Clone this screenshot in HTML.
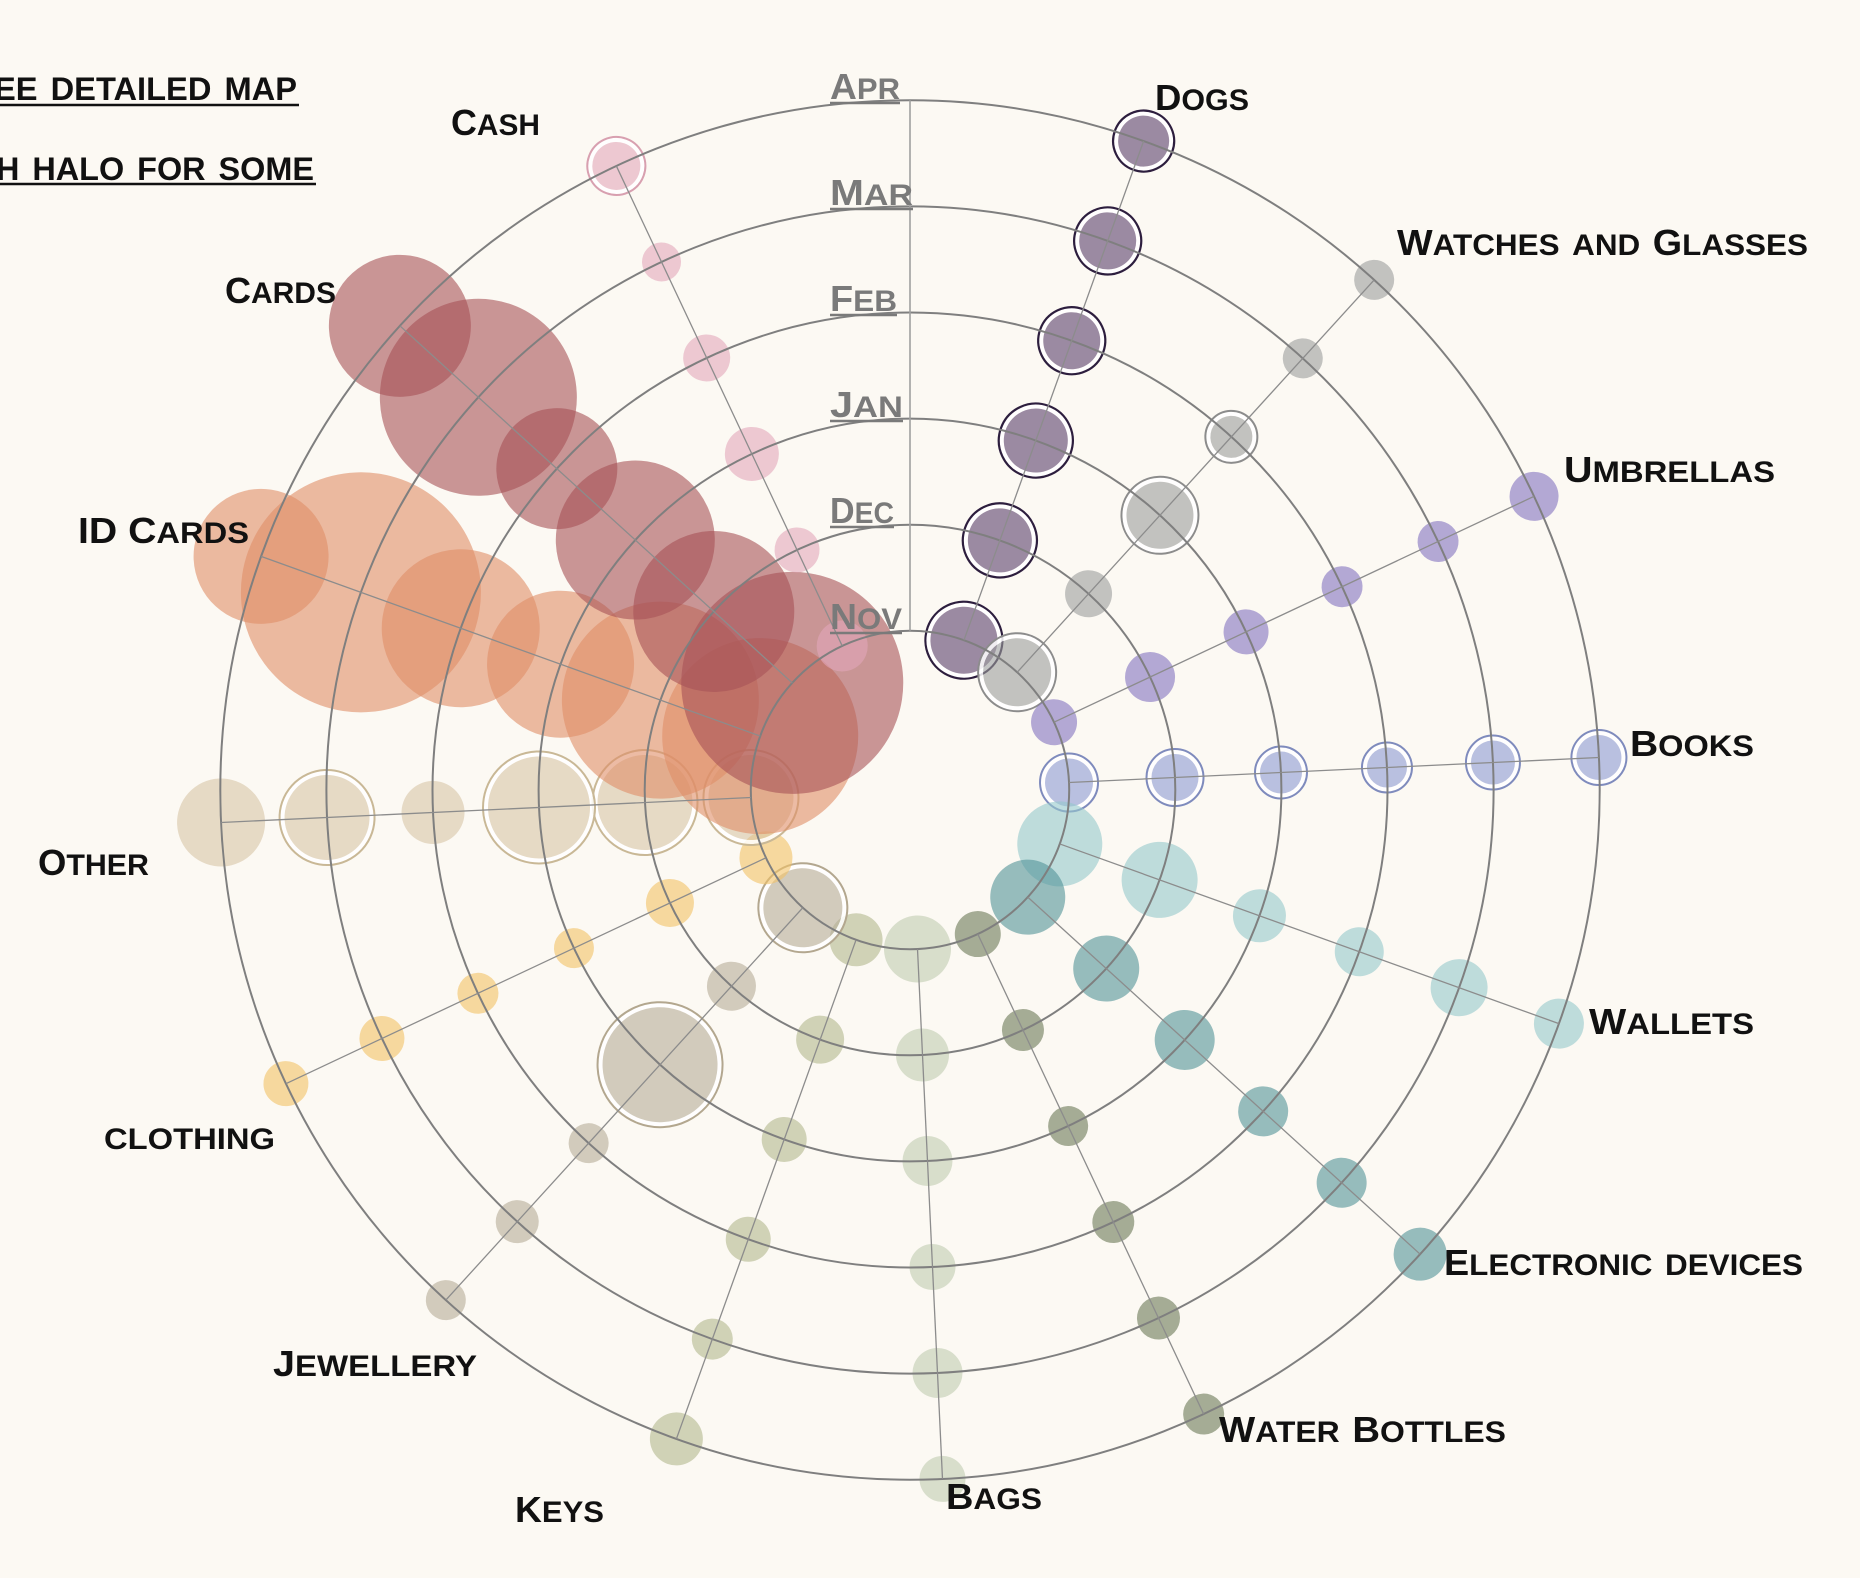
<!DOCTYPE html>
<html><head><meta charset="utf-8"><style>
html,body{margin:0;padding:0;background:#fcf9f3;}
svg{display:block;}
text{font-family:"Liberation Sans",sans-serif;font-weight:bold;font-variant:small-caps;}
.cat{font-size:36px;fill:#111;}
.mon{font-size:36px;fill:#7a7a7a;}
.ttl{font-size:46px;fill:#111;}
.s{font-size:43px;}
.b{opacity:.6;}
.hw{fill:none;stroke:#fff;stroke-width:4;opacity:.85;}
</style></head><body>
<svg width="1860" height="1578" viewBox="0 0 1860 1578" xmlns="http://www.w3.org/2000/svg">
<rect width="1860" height="1578" fill="#fcf9f3"/>

<!-- bubbles -->
<g transform="translate(910,790)">
 <!-- Dogs -->
 <g transform="rotate(19.8)">
  <g fill="rgb(90,63,109)">
   <circle class="hw" cy="-159.2" r="35.5"/><circle cy="-159.2" r="38.5" fill="none" stroke="#2d1e3e" stroke-width="2.2"/><circle class="b" cy="-159.2" r="33.5"/>
   <circle class="hw" cy="-265.3" r="34"/><circle cy="-265.3" r="37" fill="none" stroke="#2d1e3e" stroke-width="2.2"/><circle class="b" cy="-265.3" r="32"/>
   <circle class="hw" cy="-371.4" r="34"/><circle cy="-371.4" r="37" fill="none" stroke="#2d1e3e" stroke-width="2.2"/><circle class="b" cy="-371.4" r="32"/>
   <circle class="hw" cy="-477.5" r="30.5"/><circle cy="-477.5" r="33.5" fill="none" stroke="#2d1e3e" stroke-width="2.2"/><circle class="b" cy="-477.5" r="28.5"/>
   <circle class="hw" cy="-583.6" r="30.5"/><circle cy="-583.6" r="33.5" fill="none" stroke="#2d1e3e" stroke-width="2.2"/><circle class="b" cy="-583.6" r="28.5"/>
   <circle class="hw" cy="-689.7" r="27.5"/><circle cy="-689.7" r="30.5" fill="none" stroke="#2d1e3e" stroke-width="2.2"/><circle class="b" cy="-689.7" r="25.5"/>
  </g>
 </g>
 <!-- Watches and Glasses -->
 <g transform="rotate(42.3)">
  <g fill="rgb(155,157,157)">
   <circle class="hw" cy="-159.2" r="36"/><circle cy="-159.2" r="39" fill="none" stroke="#8c8c8c" stroke-width="2"/><circle class="b" cy="-159.2" r="34"/>
   <circle class="b" cy="-265.3" r="23.5"/>
   <circle class="hw" cy="-371.4" r="35.5"/><circle cy="-371.4" r="38.5" fill="none" stroke="#8c8c8c" stroke-width="2"/><circle class="b" cy="-371.4" r="33.5"/>
   <circle class="hw" cy="-477.5" r="23"/><circle cy="-477.5" r="26" fill="none" stroke="#8c8c8c" stroke-width="2"/><circle class="b" cy="-477.5" r="21"/>
   <circle class="b" cy="-583.6" r="20"/>
   <circle class="b" cy="-689.7" r="20"/>
  </g>
 </g>
 <!-- Umbrellas -->
 <g transform="rotate(64.8)" fill="rgb(130,113,191)">
  <circle class="b" cy="-159.2" r="23"/><circle class="b" cy="-265.3" r="25"/><circle class="b" cy="-371.4" r="22.5"/>
  <circle class="b" cy="-477.5" r="20.5"/><circle class="b" cy="-583.6" r="20.5"/><circle class="b" cy="-689.7" r="24.5"/>
 </g>
 <!-- Books -->
 <g transform="rotate(87.3)" fill="rgb(140,153,211)">
  <circle class="hw" cy="-159.2" r="26"/><circle cy="-159.2" r="29" fill="none" stroke="#7f8bbd" stroke-width="2"/><circle class="b" cy="-159.2" r="24"/>
  <circle class="hw" cy="-265.3" r="25.5"/><circle cy="-265.3" r="28.5" fill="none" stroke="#7f8bbd" stroke-width="2"/><circle class="b" cy="-265.3" r="23.5"/>
  <circle class="hw" cy="-371.4" r="23"/><circle cy="-371.4" r="26" fill="none" stroke="#7f8bbd" stroke-width="2"/><circle class="b" cy="-371.4" r="21"/>
  <circle class="hw" cy="-477.5" r="22"/><circle cy="-477.5" r="25" fill="none" stroke="#7f8bbd" stroke-width="2"/><circle class="b" cy="-477.5" r="20"/>
  <circle class="hw" cy="-583.6" r="24"/><circle cy="-583.6" r="27" fill="none" stroke="#7f8bbd" stroke-width="2"/><circle class="b" cy="-583.6" r="22"/>
  <circle class="hw" cy="-689.7" r="24.5"/><circle cy="-689.7" r="27.5" fill="none" stroke="#7f8bbd" stroke-width="2"/><circle class="b" cy="-689.7" r="22.5"/>
 </g>
 <!-- Wallets -->
 <g transform="rotate(109.8)" fill="rgb(149,200,204)">
  <circle class="b" cy="-159.2" r="42.5"/><circle class="b" cy="-265.3" r="38"/><circle class="b" cy="-371.4" r="26.5"/>
  <circle class="b" cy="-477.5" r="24.5"/><circle class="b" cy="-583.6" r="28.5"/><circle class="b" cy="-689.7" r="25"/>
 </g>
 <!-- Electronic devices -->
 <g transform="rotate(132.3)" fill="rgb(82,147,151)">
  <circle class="b" cy="-159.2" r="37.5"/><circle class="b" cy="-265.3" r="33"/><circle class="b" cy="-371.4" r="30"/>
  <circle class="b" cy="-477.5" r="25"/><circle class="b" cy="-583.6" r="25"/><circle class="b" cy="-689.7" r="26.5"/>
 </g>
 <!-- Water Bottles -->
 <g transform="rotate(154.8)" fill="rgb(107,120,87)">
  <circle class="b" cy="-159.2" r="23"/><circle class="b" cy="-265.3" r="21"/><circle class="b" cy="-371.4" r="20"/>
  <circle class="b" cy="-477.5" r="21"/><circle class="b" cy="-583.6" r="21.5"/><circle class="b" cy="-689.7" r="20.5"/>
 </g>
 <!-- Bags -->
 <g transform="rotate(177.3)" fill="rgb(192,203,177)">
  <circle class="b" cy="-159.2" r="33.5"/><circle class="b" cy="-265.3" r="26.5"/><circle class="b" cy="-371.4" r="25"/>
  <circle class="b" cy="-477.5" r="23"/><circle class="b" cy="-583.6" r="25"/><circle class="b" cy="-689.7" r="23"/>
 </g>
 <!-- Keys -->
 <g transform="rotate(199.8)" fill="rgb(179,183,141)">
  <circle class="b" cy="-159.2" r="26.5"/><circle class="b" cy="-265.3" r="24"/><circle class="b" cy="-371.4" r="22.5"/>
  <circle class="b" cy="-477.5" r="22.5"/><circle class="b" cy="-583.6" r="20.5"/><circle class="b" cy="-689.7" r="26.5"/>
 </g>
 <!-- Jewellery -->
 <g transform="rotate(222.3)" fill="rgb(182,172,151)">
  <circle class="hw" cy="-159.2" r="41.5"/><circle cy="-159.2" r="44.5" fill="none" stroke="#b3a78f" stroke-width="2"/><circle class="b" cy="-159.2" r="39.5"/>
  <circle class="b" cy="-265.3" r="24.5"/>
  <circle class="hw" cy="-371.4" r="59.5"/><circle cy="-371.4" r="62.5" fill="none" stroke="#b3a78f" stroke-width="2"/><circle class="b" cy="-371.4" r="57.5"/>
  <circle class="b" cy="-477.5" r="20"/><circle class="b" cy="-583.6" r="21.5"/><circle class="b" cy="-689.7" r="20"/>
 </g>
 <!-- clothing -->
 <g transform="rotate(244.8)" fill="rgb(242,193,101)">
  <circle class="b" cy="-159.2" r="26.5"/><circle class="b" cy="-265.3" r="24"/><circle class="b" cy="-371.4" r="20"/>
  <circle class="b" cy="-477.5" r="20.5"/><circle class="b" cy="-583.6" r="22.5"/><circle class="b" cy="-689.7" r="22.5"/>
 </g>
 <!-- Other -->
 <g transform="rotate(267.3)" fill="rgb(215,197,167)">
  <circle class="hw" cy="-159.2" r="44.5"/><circle cy="-159.2" r="47.5" fill="none" stroke="#c9b896" stroke-width="2"/><circle class="b" cy="-159.2" r="42.5"/>
  <circle class="hw" cy="-265.3" r="49.5"/><circle cy="-265.3" r="52.5" fill="none" stroke="#c9b896" stroke-width="2"/><circle class="b" cy="-265.3" r="47.5"/>
  <circle class="hw" cy="-371.4" r="53"/><circle cy="-371.4" r="56" fill="none" stroke="#c9b896" stroke-width="2"/><circle class="b" cy="-371.4" r="51"/>
  <circle class="b" cy="-477.5" r="31.5"/>
  <circle class="hw" cy="-583.6" r="44.5"/><circle cy="-583.6" r="47.5" fill="none" stroke="#c9b896" stroke-width="2"/><circle class="b" cy="-583.6" r="42.5"/>
  <circle class="b" cy="-689.7" r="44"/>
 </g>
 <!-- ID Cards -->
 <g transform="rotate(289.8)" fill="rgb(224,142,104)">
  <circle class="b" cy="-159.2" r="98"/><circle class="b" cy="-265.3" r="98.5"/><circle class="b" cy="-371.4" r="73.5"/>
  <circle class="b" cy="-477.5" r="79"/><circle class="b" cy="-583.6" r="120"/><circle class="b" cy="-689.7" r="67.5"/>
 </g>
 <!-- Cards -->
 <g transform="rotate(312.3)" fill="rgb(167,82,86)">
  <circle class="b" cy="-159.2" r="111"/><circle class="b" cy="-265.3" r="80.5"/><circle class="b" cy="-371.4" r="79.5"/>
  <circle class="b" cy="-477.5" r="60.5"/><circle class="b" cy="-583.6" r="98.5"/><circle class="b" cy="-689.7" r="71"/>
 </g>
 <!-- Cash -->
 <g transform="rotate(334.8)" fill="rgb(227,167,187)">
  <circle class="b" cy="-159.2" r="25.5"/><circle class="b" cy="-265.3" r="22.5"/><circle class="b" cy="-371.4" r="27"/>
  <circle class="b" cy="-477.5" r="23.5"/><circle class="b" cy="-583.6" r="19.5"/>
  <circle class="hw" cy="-689.7" r="26"/><circle cy="-689.7" r="29" fill="none" stroke="#d8a0b0" stroke-width="2"/><circle class="b" cy="-689.7" r="24"/>
 </g>
</g>

<!-- grid -->
<g transform="translate(910,790)" fill="none">
 <g stroke="#7f7f7f" stroke-width="2">
  <circle r="159.2"/><circle r="265.3"/><circle r="371.4"/><circle r="477.5"/><circle r="583.6"/><circle r="689.7"/>
 </g>
 <g stroke="#8c8c8c" stroke-width="1.3">
  <line x1="0" y1="-159.2" x2="0" y2="-689.7" stroke="#a0a0a0" stroke-width="1.6"/>
  <line transform="rotate(19.8)" x1="0" y1="-159.2" x2="0" y2="-689.7"/>
  <line transform="rotate(42.3)" x1="0" y1="-159.2" x2="0" y2="-689.7"/>
  <line transform="rotate(64.8)" x1="0" y1="-159.2" x2="0" y2="-689.7"/>
  <line transform="rotate(87.3)" x1="0" y1="-159.2" x2="0" y2="-689.7"/>
  <line transform="rotate(109.8)" x1="0" y1="-159.2" x2="0" y2="-689.7"/>
  <line transform="rotate(132.3)" x1="0" y1="-159.2" x2="0" y2="-689.7"/>
  <line transform="rotate(154.8)" x1="0" y1="-159.2" x2="0" y2="-689.7"/>
  <line transform="rotate(177.3)" x1="0" y1="-159.2" x2="0" y2="-689.7"/>
  <line transform="rotate(199.8)" x1="0" y1="-159.2" x2="0" y2="-689.7"/>
  <line transform="rotate(222.3)" x1="0" y1="-159.2" x2="0" y2="-689.7"/>
  <line transform="rotate(244.8)" x1="0" y1="-159.2" x2="0" y2="-689.7"/>
  <line transform="rotate(267.3)" x1="0" y1="-159.2" x2="0" y2="-689.7"/>
  <line transform="rotate(289.8)" x1="0" y1="-159.2" x2="0" y2="-689.7"/>
  <line transform="rotate(312.3)" x1="0" y1="-159.2" x2="0" y2="-689.7"/>
  <line transform="rotate(334.8)" x1="0" y1="-159.2" x2="0" y2="-689.7"/>
 </g>
</g>

<!-- month labels -->
<g>
 <text class="mon" x="830" y="99" textLength="70" lengthAdjust="spacingAndGlyphs">A<tspan class="s">pr</tspan></text>
 <line x1="830" y1="103" x2="900" y2="103" stroke="#7a7a7a" stroke-width="2.5"/>
 <text class="mon" x="830" y="205" textLength="83" lengthAdjust="spacingAndGlyphs">M<tspan class="s">ar</tspan></text>
 <line x1="830" y1="209" x2="913" y2="209" stroke="#7a7a7a" stroke-width="2.5"/>
 <text class="mon" x="830" y="311" textLength="67" lengthAdjust="spacingAndGlyphs">F<tspan class="s">eb</tspan></text>
 <line x1="830" y1="315" x2="897" y2="315" stroke="#7a7a7a" stroke-width="2.5"/>
 <text class="mon" x="830" y="417" textLength="73" lengthAdjust="spacingAndGlyphs">J<tspan class="s">an</tspan></text>
 <line x1="830" y1="421" x2="903" y2="421" stroke="#7a7a7a" stroke-width="2.5"/>
 <text class="mon" x="830" y="523" textLength="64" lengthAdjust="spacingAndGlyphs">D<tspan class="s">ec</tspan></text>
 <line x1="830" y1="527" x2="894" y2="527" stroke="#7a7a7a" stroke-width="2.5"/>
 <text class="mon" x="830" y="629" textLength="72" lengthAdjust="spacingAndGlyphs">N<tspan class="s">ov</tspan></text>
 <line x1="830" y1="633" x2="902" y2="633" stroke="#7a7a7a" stroke-width="2.5"/>
</g>

<!-- category labels -->
<g>
 <text class="cat" x="1155" y="110" textLength="94" lengthAdjust="spacingAndGlyphs">D<tspan class="s">ogs</tspan></text>
 <text class="cat" x="1397" y="255" textLength="411" lengthAdjust="spacingAndGlyphs">W<tspan class="s">atches and </tspan>G<tspan class="s">lasses</tspan></text>
 <text class="cat" x="1564" y="482" textLength="211" lengthAdjust="spacingAndGlyphs">U<tspan class="s">mbrellas</tspan></text>
 <text class="cat" x="1630" y="756" textLength="124" lengthAdjust="spacingAndGlyphs">B<tspan class="s">ooks</tspan></text>
 <text class="cat" x="1589" y="1034" textLength="165" lengthAdjust="spacingAndGlyphs">W<tspan class="s">allets</tspan></text>
 <text class="cat" x="1444" y="1275" textLength="359" lengthAdjust="spacingAndGlyphs">E<tspan class="s">lectronic devices</tspan></text>
 <text class="cat" x="1219" y="1442" textLength="287" lengthAdjust="spacingAndGlyphs">W<tspan class="s">ater </tspan>B<tspan class="s">ottles</tspan></text>
 <text class="cat" x="946" y="1509" textLength="96" lengthAdjust="spacingAndGlyphs">B<tspan class="s">ags</tspan></text>
 <text class="cat" x="515" y="1522" textLength="89" lengthAdjust="spacingAndGlyphs">K<tspan class="s">eys</tspan></text>
 <text class="cat" x="273" y="1376" textLength="204" lengthAdjust="spacingAndGlyphs">J<tspan class="s">ewellery</tspan></text>
 <text class="cat s" x="104" y="1149" textLength="171" lengthAdjust="spacingAndGlyphs">clothing</text>
 <text class="cat" x="38" y="875" textLength="111" lengthAdjust="spacingAndGlyphs">O<tspan class="s">ther</tspan></text>
 <text class="cat" x="78" y="543" textLength="171" lengthAdjust="spacingAndGlyphs">ID C<tspan class="s">ards</tspan></text>
 <text class="cat" x="225" y="303" textLength="111" lengthAdjust="spacingAndGlyphs">C<tspan class="s">ards</tspan></text>
 <text class="cat" x="451" y="135" textLength="89" lengthAdjust="spacingAndGlyphs">C<tspan class="s">ash</tspan></text>
</g>

<!-- title lines (cut off at left) -->
<g>
 <text class="ttl" x="-6" y="100" textLength="303" lengthAdjust="spacingAndGlyphs">ee detailed map</text>
 <line x1="0" y1="105" x2="299" y2="105" stroke="#111" stroke-width="2.5"/>
 <text class="ttl" x="-4" y="180" textLength="318" lengthAdjust="spacingAndGlyphs">h halo for some</text>
 <line x1="0" y1="184" x2="316" y2="184" stroke="#111" stroke-width="2.5"/>
</g>
</svg>
</body></html>
